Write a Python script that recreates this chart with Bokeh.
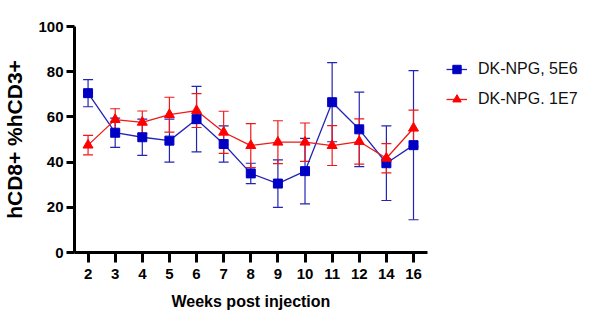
from bokeh.plotting import figure
from bokeh.models import ColumnDataSource, Whisker, TeeHead, Legend, LegendItem, FixedTicker, Title
from bokeh.embed import file_html
from bokeh.resources import INLINE

weeks = ["2", "3", "4", "5", "6", "7", "8", "9", "10", "11", "12", "14", "16"]
blue_mean = [70.5, 53.0, 51.0, 49.5, 59.0, 48.0, 35.0, 30.5, 36.0, 66.5, 54.5, 39.5, 47.5]
blue_err = [6.0, 6.5, 8.0, 9.5, 14.5, 8.0, 4.5, 10.5, 14.5, 17.5, 16.5, 16.5, 33.0]
red_mean = [47.5, 58.8, 57.6, 61.0, 62.8, 53.2, 47.3, 48.8, 48.8, 47.3, 49.1, 41.7, 55.0]
red_err = [4.3, 4.8, 5.0, 7.7, 7.5, 9.3, 9.7, 9.5, 8.5, 8.8, 10.0, 6.5, 8.0]
series_names = ["DK-NPG, 5E6", "DK-NPG. 1E7"]
x_title = "Weeks post injection"
y_title = "hCD8+ %hCD3+"

BLUE = "#0000C4"
BLUE_LINE = "#2424B4"
RED = "#FF0000"
RED_LINE = "#F01818"
FONT = "Liberation Sans"

pos = list(range(len(weeks)))  # evenly spaced categorical slots
n = len(weeks)
# frame spans to the right edge so the legend can sit inside it; axis line bounded to data slots
p = figure(width=592, height=321, x_range=(-0.5, 18.6), y_range=(0, 100),
           output_backend="svg", toolbar_location=None,
           min_border_left=69, min_border_right=0, min_border_top=26, min_border_bottom=69)
p.outline_line_color = None
p.xgrid.visible = False
p.ygrid.visible = False
p.background_fill_color = "white"

def src(mean, err):
    return ColumnDataSource(dict(x=pos, y=mean,
                                 upper=[m + e for m, e in zip(mean, err)],
                                 lower=[m - e for m, e in zip(mean, err)]))

bs = src(blue_mean, blue_err)
rs = src(red_mean, red_err)

for s, c in ((bs, BLUE_LINE), (rs, RED_LINE)):
    w = Whisker(base="x", upper="upper", lower="lower", source=s, dimension="height",
                line_color=c, line_width=1.2,
                upper_head=TeeHead(size=10, line_color=c, line_width=1.2),
                lower_head=TeeHead(size=10, line_color=c, line_width=1.2))
    p.add_layout(w)

bl = p.line("x", "y", source=bs, line_color=BLUE_LINE, line_width=1.3)
rl = p.line("x", "y", source=rs, line_color=RED_LINE, line_width=1.3)
bm = p.scatter("x", "y", source=bs, marker="square", size=9, fill_color=BLUE, line_color=BLUE)
rm = p.scatter("x", "y", source=rs, marker="triangle", size=10, fill_color=RED, line_color=RED)

legend = Legend(items=[LegendItem(label=series_names[0], renderers=[bl, bm]),
                       LegendItem(label=series_names[1], renderers=[rl, rm])],
                location=(372, 138), border_line_color=None, background_fill_alpha=0,
                padding=0, margin=0, spacing=0, glyph_width=21, glyph_height=30,
                label_height=30, label_standoff=11,
                label_text_font=FONT, label_text_font_size="16px", label_text_color="#111111")
p.add_layout(legend, "center")

for ax in (p.xaxis[0], p.yaxis[0]):
    ax.axis_line_width = 3
    ax.axis_line_color = "black"
    ax.major_tick_line_width = 3
    ax.major_tick_line_color = "black"
    ax.minor_tick_line_color = None
    ax.major_tick_in = 0
    ax.major_label_text_font = FONT
    ax.major_label_text_font_style = "bold"
    ax.major_label_text_font_size = "15px"
    ax.major_label_text_color = "black"
    ax.axis_label_text_font = FONT
    ax.axis_label_text_font_style = "bold"
    ax.axis_label_text_color = "black"

p.yaxis.ticker = [0, 20, 40, 60, 80, 100]
p.yaxis.major_tick_out = 8
p.yaxis.major_label_standoff = 3
p.yaxis.axis_label = y_title
p.yaxis.axis_label_text_font_size = "21px"
p.yaxis.axis_label_standoff = 9

p.xaxis.bounds = (-0.5, n - 0.5)
p.xaxis.ticker = FixedTicker(ticks=pos, minor_ticks=[])
p.xaxis.major_label_overrides = {i: w for i, w in zip(pos, weeks)}
p.xaxis.major_tick_out = 10
p.xaxis.major_label_standoff = 6

xt = Title(text=x_title, align="left", offset=97, standoff=19,
           text_font=FONT, text_font_style="bold", text_font_size="16px", text_color="black")
p.add_layout(xt, "below")

open("out.html", "w").write(file_html(p, INLINE))
